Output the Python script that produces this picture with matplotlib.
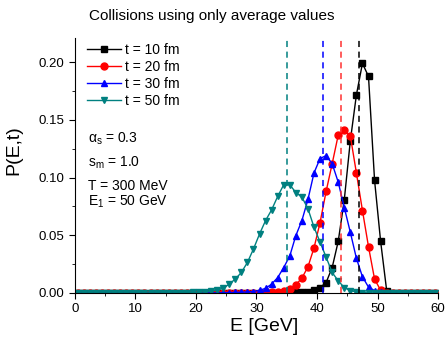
import numpy as np
import matplotlib
matplotlib.use("Agg")
import matplotlib.pyplot as plt

plt.rcParams['font.family'] = ['Liberation Sans', 'DejaVu Sans']
plt.rcParams['mathtext.fontset'] = 'custom'
plt.rcParams['mathtext.rm'] = 'Liberation Sans'
plt.rcParams['mathtext.default'] = 'regular'

# bin centres in GeV
energy = np.arange(0.5, 60.0, 1.0)

# P(E,t) per bin, one list per time
p_t10 = [0, 0, 0, 0, 0, 0, 0, 0, 0, 0,
         0, 0, 0, 0, 0, 0, 0, 0, 0, 0,
         0, 0, 0, 0, 0, 0, 0, 0, 0, 0,
         0, 0, 0, 0, 0, 0.0003, 0.0005, 0.0008, 0.0012, 0.0026,
         0.0046, 0.009, 0.022, 0.0447, 0.0807, 0.132, 0.1716, 0.199, 0.1876, 0.0976,
         0.0447, 0.002, 0, 0, 0, 0, 0, 0, 0, 0]
p_t20 = [0, 0, 0, 0, 0, 0, 0, 0, 0, 0,
         0, 0, 0, 0, 0, 0, 0, 0, 0, 0,
         0, 0, 0, 0, 0, 0, 0, 0, 0, 0,
         0.0003, 0.0004, 0.0006, 0.0008, 0.0015, 0.0032, 0.007, 0.0128, 0.0226, 0.039,
         0.061, 0.088, 0.112, 0.1368, 0.141, 0.136, 0.104, 0.0714, 0.040, 0.012,
         0.0023, 0.0003, 0, 0, 0, 0, 0, 0, 0, 0]
p_t30 = [0, 0, 0, 0, 0, 0, 0, 0, 0, 0,
         0, 0, 0, 0, 0, 0, 0, 0, 0, 0,
         0, 0, 0, 0, 0.0002, 0.0003, 0.0004, 0.0006, 0.0009, 0.0012,
         0.0022, 0.004, 0.0076, 0.0133, 0.022, 0.032, 0.0497, 0.0627, 0.081, 0.104,
         0.1165, 0.119, 0.112, 0.096, 0.074, 0.0525, 0.030, 0.014, 0.005, 0.002,
         0.0005, 0, 0, 0, 0, 0, 0, 0, 0, 0]
p_t50 = [0, 0, 0, 0, 0, 0, 0, 0, 0, 0,
         0, 0, 0, 0, 0, 0, 0, 0.0002, 0.0003, 0.0004,
         0.0006, 0.001, 0.0015, 0.0025, 0.004, 0.0076, 0.012, 0.0177, 0.0264, 0.038,
         0.051, 0.0627, 0.072, 0.0836, 0.0938, 0.0938, 0.087, 0.083, 0.073, 0.057,
         0.044, 0.031, 0.0177, 0.0105, 0.0046, 0.002, 0.0008, 0.0003, 0, 0,
         0, 0, 0, 0, 0, 0, 0, 0, 0, 0]

# average energies (dashed lines)
mean_energy = [47, 44, 41, 35]

labels = ['t = 10 fm', 't = 20 fm', 't = 30 fm', 't = 50 fm']
colors = ['black', '#ff0000', '#0000ff', '#008080']
dash_colors = ['black', '#ff3030', '#0000ff', '#008080']
markers = ['s', 'o', '^', 'v']

fig = plt.figure(figsize=(4.48, 3.45), dpi=100)
ax = fig.add_axes([0.167, 0.151, 0.811, 0.739])

for vals, lab, col, mk in zip([p_t10, p_t20, p_t30, p_t50], labels, colors, markers):
    ax.plot(energy, vals, color=col, marker=mk, markersize=5, lw=1.0, label=lab)

for m, col in zip(mean_energy, dash_colors):
    ax.axvline(m, color=col, lw=1.1, ls=(0, (4, 3)))

ax.set_xlim(0, 60)
ax.set_ylim(0, 0.221)
ax.set_xticks([0, 10, 20, 30, 40, 50, 60])
ax.set_xticks([5, 15, 25, 35, 45, 55], minor=True)
ax.set_yticks([0.0, 0.05, 0.10, 0.15, 0.20])
ax.set_yticks([0.025, 0.075, 0.125, 0.175], minor=True)
ax.set_yticklabels(['0.00', '0.05', '0.10', '0.15', '0.20'])
ax.tick_params(which='major', direction='out', length=4, labelsize=9.5)
ax.tick_params(which='minor', direction='out', length=2.5)
ax.spines['top'].set_visible(False)
ax.spines['right'].set_visible(False)

ax.set_xlabel('E [GeV]', fontsize=14)
ax.xaxis.set_label_coords(0.52, -0.1)
ax.set_ylabel('P(E,t)', fontsize=14)
ax.yaxis.set_label_coords(-0.143, 0.56)

ax.legend(loc='upper left', bbox_to_anchor=(0.0, 1.03), frameon=False, fontsize=10,
          handlelength=2.4, handletextpad=0.3, labelspacing=0.22)

ax.text(0.035, 0.588, r'α$_{s}$ = 0.3', transform=ax.transAxes, fontsize=10, va='baseline')
ax.text(0.035, 0.495, r's$_{m}$ = 1.0', transform=ax.transAxes, fontsize=10, va='baseline')
ax.text(0.035, 0.404, 'T = 300 MeV', transform=ax.transAxes, fontsize=10, va='baseline')
ax.text(0.035, 0.341, r'E$_{1}$ = 50 GeV', transform=ax.transAxes, fontsize=10, va='baseline')

fig.text(0.473, 0.955, 'Collisions using only average values', ha='center', va='center', fontsize=11)

fig.savefig('out.png', dpi=100)
